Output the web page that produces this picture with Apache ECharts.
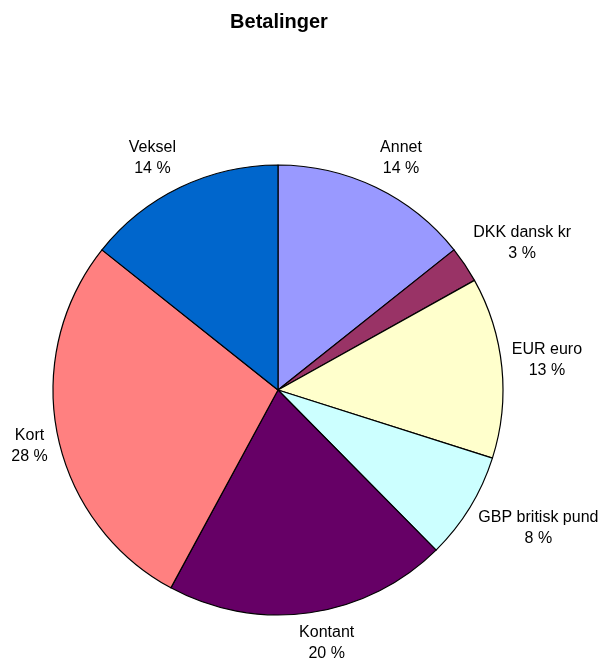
<!DOCTYPE html>
<html>
<head>
<meta charset="utf-8">
<script src="https://cdn.jsdelivr.net/npm/echarts@6/dist/echarts.min.js"></script>
<style>
html,body{margin:0;padding:0;background:#fff;}
#chart{width:602px;height:662px;}
</style>
</head>
<body>
<div id="chart"></div>
<script>
var categories = ['Annet', 'DKK dansk kr', 'EUR euro', 'GBP britisk pund', 'Kontant', 'Kort', 'Veksel'];
var values = [14.3, 2.6, 13.0, 7.7, 20.3, 27.8, 14.3];
var colors = ['#9999FF', '#993366', '#FFFFCC', '#CCFFFF', '#660066', '#FF8080', '#0066CC'];

var CX = 278, CY = 390, R = 225, ANCHOR = 235;
var total = values.reduce(function (a, b) { return a + b; }, 0);
function midAngle(i) {
  var s = 0;
  for (var k = 0; k < i; k++) s += values[k];
  return (s + values[i] / 2) / total * 2 * Math.PI;
}
function easeX(t) {
  var sign = t < 0 ? -1 : 1;
  return sign * Math.min(1, Math.abs(t) / 0.25);
}
function easeY(t) {
  var sign = t < 0 ? -1 : 1;
  return sign * Math.sqrt(Math.abs(t));
}

var chart = echarts.init(document.getElementById('chart'));
chart.setOption({
  backgroundColor: '#ffffff',
  animation: false,
  title: {
    text: 'Betalinger',
    left: 274, top: 7, textAlign: 'center',
    textStyle: { fontFamily: 'Liberation Sans, Arial, sans-serif', fontSize: 20, fontWeight: 'bold', color: '#000' }
  },
  series: [{
    type: 'pie',
    center: [CX, CY],
    radius: [0, R],
    startAngle: 90,
    clockwise: true,
    avoidLabelOverlap: false,
    data: categories.map(function (c, i) {
      return { name: c, value: values[i], itemStyle: { color: colors[i] } };
    }),
    itemStyle: { borderColor: '#000', borderWidth: 1.2 },
    label: {
      show: true,
      position: 'outside',
      formatter: function (p) { return p.name + '\n' + Math.round(p.percent) + ' %'; },
      fontFamily: 'Liberation Sans, Arial, sans-serif',
      fontSize: 16,
      lineHeight: 21,
      color: '#000',
      align: 'center',
      overflow: 'none',
      edgeDistance: 0,
      bleedMargin: 0
    },
    labelLine: { show: false },
    labelLayout: function (params) {
      var a = midAngle(params.dataIndex);
      var w = params.labelRect.width, h = params.labelRect.height;
      var s = Math.sin(a), c = Math.cos(a);
      var x = CX + ANCHOR * s + (w / 2) * easeX(s);
      var y = CY - ANCHOR * c - (h / 2) * easeY(c);
      return { x: x, y: y, align: 'center', verticalAlign: 'middle', hideOverlap: false };
    },
    emphasis: { disabled: true }
  }]
});
</script>
</body>
</html>
